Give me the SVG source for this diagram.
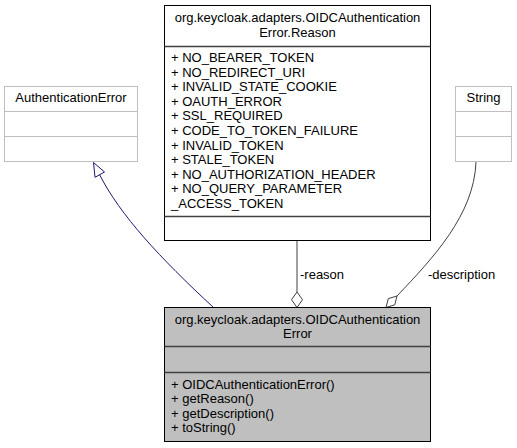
<svg xmlns="http://www.w3.org/2000/svg" width="517" height="448" viewBox="0 0 517 448">
<style>
text{font-family:"Liberation Sans",Arial,sans-serif;font-size:13px;fill:#000}
.c{text-anchor:middle}
.box{fill:#fff;stroke:#000;stroke-width:1}
.main{fill:#bfbfbf;stroke:#000;stroke-width:1}
.ext{fill:#fff;stroke:#bfbfbf;stroke-width:1}
.div{stroke:#404040;stroke-width:1.5}
.divx{stroke:#bfbfbf;stroke-width:1}
.inh{fill:none;stroke:#191970;stroke-width:1}
.agg{fill:none;stroke:#404040;stroke-width:1}
</style>
<rect width="517" height="448" fill="#fff"/>
<g id="connectors">
<path class="inh" d="M213.5,307.5 C160,258 120,215 99.5,174.5"/>
<polygon points="93.5,162.5 104.5,172 95,177.3" fill="#fff" stroke="#191970"/>
<line class="agg" x1="297" y1="240.5" x2="297" y2="292"/>
<polygon points="297,307.5 302.5,299.7 297,292 291.5,299.7" fill="#fff" stroke="#404040"/>
<text x="300" y="279">-reason</text>
<path class="agg" d="M397,296 C433,258 474,215 476,162"/>
<polygon points="386,307.5 394.75,304.85 397,296 388.25,298.65" fill="#fff" stroke="#404040"/>
<text x="428" y="279">-description</text>
</g>
<g id="AuthenticationError">
<rect class="ext" x="4.5" y="86.5" width="133" height="75"/>
<line class="divx" x1="4.5" y1="111.5" x2="137.5" y2="111.5"/>
<line class="divx" x1="4.5" y1="136.5" x2="137.5" y2="136.5"/>
<text class="c" x="71" y="102">AuthenticationError</text>
</g>
<g id="String">
<rect class="ext" x="455.5" y="86.5" width="56" height="75"/>
<line class="divx" x1="455.5" y1="111.5" x2="511.5" y2="111.5"/>
<line class="divx" x1="455.5" y1="136.5" x2="511.5" y2="136.5"/>
<text class="c" x="483.5" y="102">String</text>
</g>
<g id="Reason">
<rect class="box" x="164.5" y="5.5" width="266" height="235"/>
<line class="div" x1="164.5" y1="46.5" x2="430.5" y2="46.5"/>
<line class="div" x1="164.5" y1="216.5" x2="430.5" y2="216.5"/>
<text class="c" x="297.5" y="22">org.keycloak.adapters.OIDCAuthentication</text>
<text class="c" x="297.5" y="36.5">Error.Reason</text>
<text x="171" y="62">+ NO_BEARER_TOKEN</text>
<text x="171" y="76.6">+ NO_REDIRECT_URI</text>
<text x="171" y="91.2">+ INVALID_STATE_COOKIE</text>
<text x="171" y="105.8">+ OAUTH_ERROR</text>
<text x="171" y="120.4">+ SSL_REQUIRED</text>
<text x="171" y="135">+ CODE_TO_TOKEN_FAILURE</text>
<text x="171" y="149.6">+ INVALID_TOKEN</text>
<text x="171" y="164.2">+ STALE_TOKEN</text>
<text x="171" y="178.8">+ NO_AUTHORIZATION_HEADER</text>
<text x="171" y="193.4">+ NO_QUERY_PARAMETER</text>
<text x="171" y="208">_ACCESS_TOKEN</text>
</g>
<g id="OIDCAuthenticationError">
<rect class="main" x="164.5" y="307.5" width="266" height="134"/>
<line class="div" x1="164.5" y1="346.5" x2="430.5" y2="346.5"/>
<line class="div" x1="164.5" y1="372.5" x2="430.5" y2="372.5"/>
<text class="c" x="297.5" y="323.5">org.keycloak.adapters.OIDCAuthentication</text>
<text class="c" x="297.5" y="338">Error</text>
<text x="171" y="388.5">+ OIDCAuthenticationError()</text>
<text x="171" y="403">+ getReason()</text>
<text x="171" y="417.5">+ getDescription()</text>
<text x="171" y="432">+ toString()</text>
</g>
</svg>
